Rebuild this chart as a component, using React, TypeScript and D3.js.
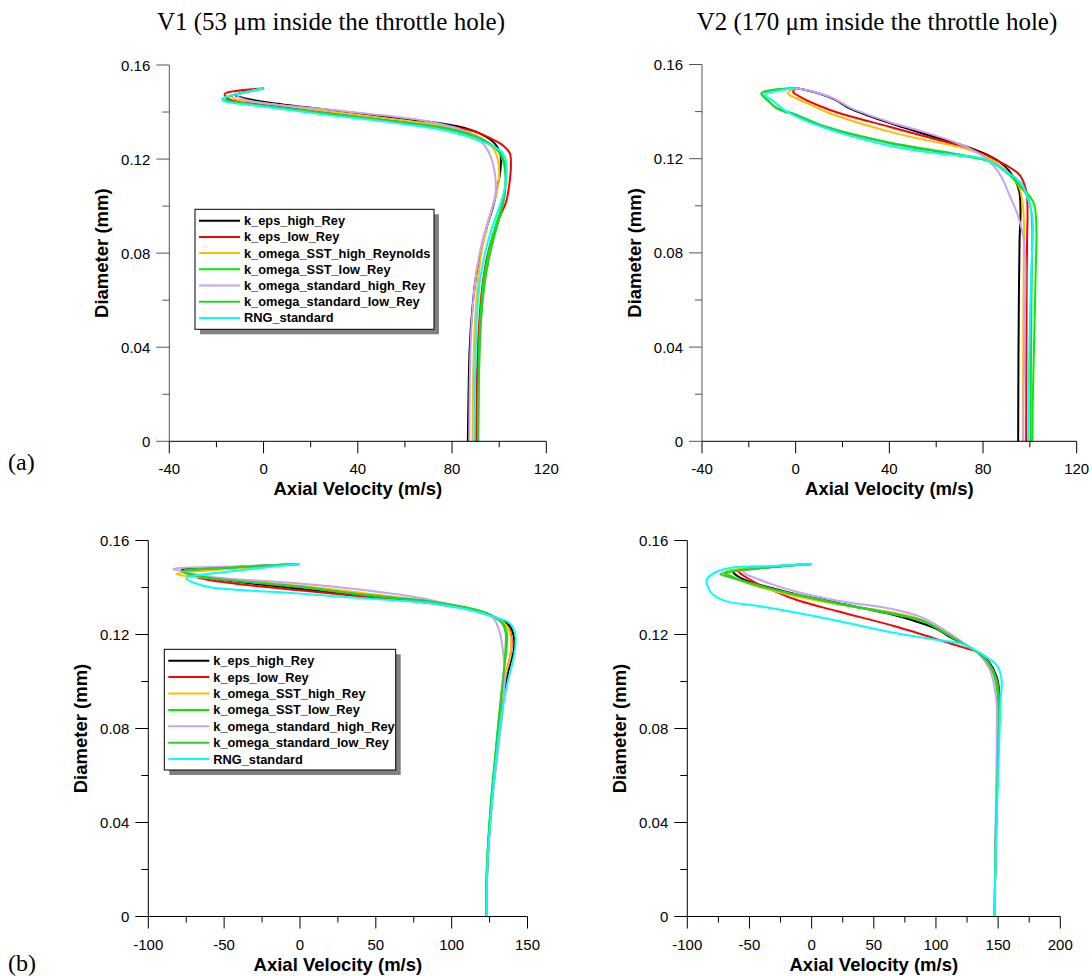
import React from "react";
import * as d3 from "d3";

type Pt = [number, number];

// ---------- labels ----------
const titleV1 = "V1 (53 \u03bcm inside the throttle hole)";
const titleV2 = "V2 (170 \u03bcm inside the throttle hole)";
const legendLabelsA = [
  "k_eps_high_Rey",
  "k_eps_low_Rey",
  "k_omega_SST_high_Reynolds",
  "k_omega_SST_low_Rey",
  "k_omega_standard_high_Rey",
  "k_omega_standard_low_Rey",
  "RNG_standard",
];
const legendLabelsB = [
  "k_eps_high_Rey",
  "k_eps_low_Rey",
  "k_omega_SST_high_Rey",
  "k_omega_SST_low_Rey",
  "k_omega_standard_high_Rey",
  "k_omega_standard_low_Rey",
  "RNG_standard",
];
const xTicksA = [-40, 0, 40, 80, 120];
const xMinorA = [-20, 20, 60, 100];
const xTicksB1 = [-100, -50, 0, 50, 100, 150];
const xMinorB1 = [-75, -25, 25, 75, 125];
const xTicksB2 = [-100, -50, 0, 50, 100, 150, 200];
const xMinorB2 = [-75, -25, 25, 75, 125, 175];
const yTicks = [0, 0.04, 0.08, 0.12, 0.16];
const yMinor = [0.02, 0.06, 0.1, 0.14];

// ---------- data: [axial velocity (m/s), diameter (mm)] ----------
// (a) V1
const a1_kEpsHigh: Pt[] = [[0,0.150],[-12,0.1472],[-9,0.1461],[-1,0.1445],[26,0.1411],[55,0.1377],[75,0.1352],[86,0.1330],[93,0.1303],[98,0.1268],[100.5,0.1222],[100.5,0.1150],[99,0.1070],[97.5,0.1000],[95,0.0920],[92.3,0.0810],[90,0.0690],[88.5,0.0550],[87.5,0.0400],[87,0.0200],[86.7,0]];
const a1_kEpsLow: Pt[] = [[0,0.150],[-16.5,0.1477],[-15.5,0.1460],[-13,0.1448],[-1,0.1432],[26,0.1401],[55,0.1367],[76,0.1343],[88,0.1322],[96,0.1290],[102,0.1255],[104.5,0.1225],[105,0.1180],[104.4,0.1100],[103,0.1020],[100.5,0.0960],[97.5,0.0880],[95,0.0790],[93,0.0670],[91.5,0.0500],[90.7,0.0300],[90.3,0]];
const a1_sstHigh: Pt[] = [[0,0.150],[-13.5,0.1466],[-12,0.1455],[0,0.1438],[26,0.1404],[55,0.1369],[75,0.1344],[86,0.1318],[93,0.1285],[97.5,0.1245],[99.5,0.1195],[100,0.1130],[99,0.1060],[97,0.0990],[94.5,0.0900],[92.3,0.0790],[90.8,0.0660],[89.7,0.0500],[89,0.0300],[88.7,0]];
const a1_sstLow: Pt[] = [[0,0.150],[-17.5,0.1456],[-16,0.1447],[-3,0.1429],[26,0.1394],[55,0.1359],[75,0.1333],[85,0.1310],[93,0.1280],[99,0.1243],[102,0.1195],[102.8,0.1130],[102.3,0.1060],[100.8,0.0990],[98.3,0.0910],[95.7,0.0810],[93.5,0.0690],[92,0.0520],[91.3,0.0300],[91,0]];
const a1_stdHigh: Pt[] = [[0,0.150],[-11,0.1470],[-10,0.1460],[-2,0.1441],[26,0.1412],[55,0.1381],[69,0.1362],[83,0.1328],[92,0.1278],[96,0.1220],[98,0.1150],[98.6,0.1080],[98,0.1030],[96,0.0960],[93.3,0.0870],[91,0.0760],[89.3,0.0630],[88.2,0.0480],[87.6,0.0300],[87.3,0]];
const a1_stdLow: Pt[] = [[0,0.150],[-16,0.1458],[-14.5,0.1448],[-2,0.1430],[26,0.1396],[55,0.1361],[75,0.1336],[86,0.1311],[94,0.1278],[99.5,0.1235],[102,0.1180],[102.7,0.1120],[102.4,0.1050],[101,0.0980],[98.7,0.0900],[96.2,0.0800],[94,0.0680],[92.4,0.0520],[91.5,0.0300],[91.2,0]];
const a1_rng: Pt[] = [[0,0.150],[-17.5,0.1455],[-16,0.1444],[-3,0.1427],[26,0.1389],[55,0.1355],[75,0.1326],[85,0.1301],[92,0.1276],[97.5,0.1255],[101.5,0.1225],[103,0.1185],[103,0.1120],[101.8,0.1050],[99.5,0.0980],[96.7,0.0900],[94,0.0800],[91.8,0.0680],[90.5,0.0520],[89.8,0.0300],[89.5,0]];

// (a) V2
const a2_kEpsHigh: Pt[] = [[0,0.150],[10,0.1477],[17,0.1450],[23,0.1414],[40,0.1352],[54,0.1308],[65,0.1275],[73,0.1251],[81,0.1220],[87,0.1187],[91,0.1150],[94,0.1103],[95.5,0.1060],[96,0.0980],[95.6,0.0850],[95.3,0.0600],[95.1,0.0300],[95,0]];
const a2_kEpsLow: Pt[] = [[0,0.150],[-1.1,0.1484],[1.7,0.1464],[10,0.1425],[18.8,0.1393],[40,0.1336],[55,0.1295],[68.6,0.1259],[80,0.1220],[87.1,0.1187],[95.6,0.1131],[98.5,0.1060],[99,0.0980],[98.8,0.0850],[98.6,0.0600],[98.5,0.0300],[98.4,0]];
const a2_sstHigh: Pt[] = [[0,0.150],[-3.3,0.1481],[-2.6,0.1471],[5,0.1435],[14.5,0.1393],[40,0.1315],[55,0.1280],[71.5,0.1245],[82,0.1205],[88.5,0.1160],[93,0.1115],[95.6,0.1075],[97,0.1000],[97.5,0.0920],[97.4,0.0800],[97.2,0.0500],[97,0]];
const a2_sstLow: Pt[] = [[0,0.150],[-14.6,0.1477],[-12,0.1450],[-8.2,0.1414],[0,0.1385],[11.7,0.1336],[40,0.1266],[68.6,0.1216],[82.8,0.1187],[91.4,0.1131],[96,0.1080],[100,0.1040],[102,0.1000],[102.8,0.0900],[102.6,0.0770],[102,0.0500],[101.3,0.0200],[101,0]];
const a2_stdHigh: Pt[] = [[0,0.150],[10,0.1478],[17,0.1452],[23,0.1418],[40,0.1356],[55,0.1313],[68,0.1270],[75,0.1240],[80,0.1210],[84.5,0.1170],[88,0.1120],[91.5,0.1040],[94.5,0.0970],[97,0.0880],[98,0.0790],[97.8,0.0500],[97.3,0.0200],[97.2,0]];
const a2_stdLow: Pt[] = [[0,0.150],[-14.6,0.1478],[-12.5,0.1452],[-8,0.1416],[0,0.1388],[12,0.1339],[40,0.1269],[68.6,0.1220],[82.8,0.1190],[91,0.1135],[96,0.1085],[99,0.1040],[100.5,0.0980],[101,0.0900],[100.8,0.0700],[100.5,0.0400],[100.3,0]];
const a2_rng: Pt[] = [[0,0.150],[-13.2,0.1471],[-10,0.1448],[-2.6,0.1393],[11.7,0.1333],[40,0.1255],[60,0.1223],[80,0.1200],[90,0.1145],[96,0.1100],[98.4,0.1054],[101,0.0960],[101.3,0.0900],[100.5,0.0700],[99.8,0.0400],[99.3,0]];

// (b) V1
const b1_kEpsHigh: Pt[] = [[0,0.1500],[-40,0.1488],[-78,0.1474],[-75,0.1462],[-60,0.1440],[-2,0.1396],[42,0.1365],[86,0.1336],[116.5,0.1302],[130,0.1270],[138.5,0.1235],[141,0.1190],[141,0.1134],[138,0.1060],[134,0.0930],[130,0.0700],[126,0.0450],[123.5,0.0200],[123,0]];
const b1_kEpsLow: Pt[] = [[0,0.1500],[-40,0.1484],[-76,0.1466],[-73,0.1455],[-60,0.1432],[-2,0.1389],[42,0.1361],[86,0.1333],[116.5,0.1300],[130,0.1268],[137.5,0.1230],[139.5,0.1180],[139,0.1120],[136.5,0.1050],[133.5,0.0930],[129.5,0.0700],[125.7,0.0450],[123.3,0.0200],[122.8,0]];
const b1_sstHigh: Pt[] = [[0,0.1500],[-40,0.1482],[-81.5,0.1458],[-78,0.1452],[-60,0.1440],[-2,0.1408],[42,0.1376],[86,0.1340],[116.5,0.1302],[129,0.1272],[136,0.1240],[139,0.1190],[138.5,0.1100],[136,0.1040],[133,0.0930],[129.5,0.0700],[125.8,0.0450],[123.3,0.0200],[122.8,0]];
const b1_sstLow: Pt[] = [[0,0.1500],[-40,0.1486],[-77,0.1467],[-72,0.1455],[-59,0.1439],[-2,0.1403],[42,0.1368],[86,0.1340],[116.5,0.1304],[128,0.1275],[134,0.1245],[136.5,0.1200],[136,0.1130],[134.5,0.1050],[132.5,0.0930],[129,0.0700],[125.5,0.0450],[123.2,0.0200],[122.8,0]];
const b1_stdHigh: Pt[] = [[0,0.1500],[-40,0.1490],[-83.5,0.1479],[-78,0.1470],[-59.3,0.1446],[-2,0.1418],[42,0.1389],[86,0.1347],[116.5,0.1297],[127.5,0.1269],[131.8,0.1205],[134,0.1120],[135,0.1050],[134,0.0900],[130.5,0.0700],[126,0.0450],[123.3,0.0200],[122.9,0]];
const b1_stdLow: Pt[] = [[0,0.1500],[-40,0.1487],[-77.5,0.1470],[-74,0.1460],[-59,0.1441],[-2,0.1405],[42,0.1370],[86,0.1341],[116.5,0.1304],[127,0.1278],[133,0.1250],[135.5,0.1210],[135.5,0.1140],[134.5,0.1050],[132.5,0.0930],[129,0.0700],[125.5,0.0450],[123.2,0.0200],[122.8,0]];
const b1_rng: Pt[] = [[0,0.1500],[-40,0.1472],[-75,0.1438],[-70,0.1420],[-59.3,0.1401],[-2,0.1375],[42,0.1354],[86,0.1333],[116.5,0.1297],[130,0.1270],[138,0.1250],[141.8,0.1205],[142,0.1150],[140.5,0.1090],[137,0.1000],[133.5,0.0880],[129.5,0.0680],[125.8,0.0430],[123.5,0.0200],[123.2,0]];

// (b) V2
const b2_kEpsHigh: Pt[] = [[0,0.1500],[-30,0.1488],[-63,0.1467],[-60,0.1450],[-50,0.1425],[-30,0.1395],[-12,0.1370],[20,0.1335],[68.4,0.1280],[100,0.1225],[111,0.1190],[122,0.1160],[132.7,0.1127],[143,0.1080],[148.8,0.1020],[151,0.0950],[151,0.0860],[149.5,0.0600],[148.5,0.0400],[147.5,0.0150],[147.3,0]];
const b2_kEpsLow: Pt[] = [[0,0.1500],[-30,0.1490],[-59,0.1471],[-56,0.1455],[-45,0.1420],[-30,0.1385],[-12,0.1347],[20,0.1300],[68.4,0.1233],[111,0.1163],[125,0.1140],[132.7,0.1127],[143,0.1075],[148.5,0.1015],[150.5,0.0950],[150.5,0.0860],[149.3,0.0600],[148.3,0.0400],[147.5,0.0150],[147.3,0]];
const b2_sstHigh: Pt[] = [[0,0.1500],[-35,0.1487],[-69.7,0.1466],[-65,0.1450],[-50,0.1415],[-30,0.1385],[-12,0.1362],[20,0.1330],[68.4,0.1290],[90,0.1260],[111,0.1195],[122,0.1160],[132.7,0.1127],[142,0.1080],[147.5,0.1020],[150,0.0950],[150.5,0.0860],[149.4,0.0600],[148.3,0.0400],[147.5,0.0150],[147.3,0]];
const b2_sstLow: Pt[] = [[0,0.1500],[-35,0.1487],[-70,0.1462],[-66,0.1450],[-50,0.1418],[-30,0.1390],[-12,0.1368],[20,0.1332],[68.4,0.1283],[90,0.1255],[111,0.1195],[122,0.1160],[132.7,0.1127],[141,0.1085],[146.5,0.1030],[149.5,0.0950],[150.2,0.0860],[149.3,0.0600],[148.3,0.0400],[147.5,0.0150],[147.3,0]];
const b2_stdHigh: Pt[] = [[0,0.1500],[-30,0.1490],[-55,0.1471],[-52,0.1455],[-45,0.1440],[-30,0.1410],[-12,0.1382],[20,0.1345],[68.4,0.1304],[90,0.1270],[111,0.1205],[122,0.1165],[132.7,0.1127],[140,0.1080],[143.4,0.1049],[147,0.0980],[148.8,0.0907],[149,0.0800],[148.6,0.0600],[148,0.0400],[147.5,0.0150],[147.3,0]];
const b2_stdLow: Pt[] = [[0,0.1500],[-35,0.1485],[-73.7,0.1457],[-70,0.1450],[-50,0.1420],[-30,0.1392],[-12,0.1370],[20,0.1334],[68.4,0.1286],[90,0.1258],[111,0.1195],[122,0.1160],[132.7,0.1127],[142,0.1080],[148,0.1020],[150.5,0.0950],[150.8,0.0860],[149.5,0.0600],[148.4,0.0400],[147.5,0.0150],[147.3,0]];
const b2_rng: Pt[] = [[0,0.1500],[-30,0.1492],[-65.7,0.1483],[-79,0.1460],[-84.5,0.1432],[-83,0.1397],[-80.4,0.1375],[-69.7,0.1343],[-38.9,0.1318],[14.7,0.1265],[68.4,0.1205],[100,0.1178],[121.9,0.1158],[132.7,0.1130],[143,0.1095],[148.8,0.1070],[152.8,0.1006],[152,0.0920],[151.4,0.0836],[150,0.0600],[148.8,0.0411],[147.6,0.0150],[147.4,0]];

// ---------- styles ----------
const COLORS = ["#000000", "#ff0000", "#ffbf00", "#00ee00", "#c8a2f5", "#2ecc2e", "#00ffff"];
const SANS = "'Liberation Sans', Arial, Helvetica, sans-serif";
const SERIF = "'Liberation Serif', 'Times New Roman', serif";

type PanelCfg = {
  left: number; right: number; bottom: number; top: number;
  xDomain: [number, number]; xMajor: number[]; xMinor: number[];
  series: Pt[][]; yAxisColor: string;
  legend?: { x: number; y: number; w: number; h: number; row0: number; step: number; labels: string[] };
};

const panels: PanelCfg[] = [
  { left: 169.3, right: 546.3, bottom: 441.3, top: 65, xDomain: [-40, 120], xMajor: xTicksA, xMinor: xMinorA,
    series: [a1_kEpsHigh, a1_kEpsLow, a1_sstHigh, a1_sstLow, a1_stdHigh, a1_stdLow, a1_rng], yAxisColor: "#555",
    legend: { x: 195, y: 209.3, w: 239, h: 120, row0: 220.7, step: 16.2, labels: legendLabelsA } },
  { left: 702, right: 1076.7, bottom: 441.3, top: 64.5, xDomain: [-40, 120], xMajor: xTicksA, xMinor: xMinorA,
    series: [a2_kEpsHigh, a2_kEpsLow, a2_sstHigh, a2_sstLow, a2_stdHigh, a2_stdLow, a2_rng], yAxisColor: "#555" },
  { left: 148.3, right: 527.5, bottom: 916.5, top: 540.5, xDomain: [-100, 150], xMajor: xTicksB1, xMinor: xMinorB1,
    series: [b1_kEpsHigh, b1_kEpsLow, b1_sstHigh, b1_sstLow, b1_stdHigh, b1_stdLow, b1_rng], yAxisColor: "#000",
    legend: { x: 164.3, y: 649.3, w: 231.4, h: 120.7, row0: 660.7, step: 16.4, labels: legendLabelsB } },
  { left: 687.3, right: 1060.3, bottom: 916.5, top: 540.5, xDomain: [-100, 200], xMajor: xTicksB2, xMinor: xMinorB2,
    series: [b2_kEpsHigh, b2_kEpsLow, b2_sstHigh, b2_sstLow, b2_stdHigh, b2_stdLow, b2_rng], yAxisColor: "#000" },
];

function Panel({ cfg }: { cfg: PanelCfg }) {
  const xs = d3.scaleLinear().domain(cfg.xDomain).range([cfg.left, cfg.right]);
  const ys = d3.scaleLinear().domain([0, 0.16]).range([cfg.bottom, cfg.top]);
  const line = d3.line<Pt>().x((p) => xs(p[0])).y((p) => ys(p[1])).curve(d3.curveCatmullRom.alpha(0.5));
  const fmtY = (v: number) => (v === 0 ? "0" : v.toFixed(2));
  const lg = cfg.legend;
  return (
    <g>
      {cfg.series.map((s, i) => (
        <path key={i} d={line(s) || ""} fill="none" stroke={COLORS[i]} strokeWidth={2} strokeLinejoin="round" />
      ))}
      <line x1={cfg.left} x2={cfg.right} y1={cfg.bottom} y2={cfg.bottom} stroke="#000" strokeWidth={1} />
      <line x1={cfg.left} x2={cfg.left} y1={cfg.bottom} y2={ys(0.16)} stroke={cfg.yAxisColor} strokeWidth={1} />
      {cfg.xMajor.map((t) => (
        <g key={"xm" + t}>
          <line x1={xs(t)} x2={xs(t)} y1={cfg.bottom} y2={cfg.bottom + 12} stroke="#000" />
          <text x={xs(t)} y={cfg.bottom + 33} textAnchor="middle" fontFamily={SANS} fontSize={15}>{String(t)}</text>
        </g>
      ))}
      {cfg.xMinor.map((t) => (
        <line key={"xn" + t} x1={xs(t)} x2={xs(t)} y1={cfg.bottom} y2={cfg.bottom + 6} stroke="#000" />
      ))}
      {yTicks.map((t) => (
        <g key={"ym" + t}>
          <line x1={cfg.left - 13} x2={cfg.left} y1={ys(t)} y2={ys(t)} stroke={cfg.yAxisColor} />
          <text x={cfg.left - 19} y={ys(t) + 5.5} textAnchor="end" fontFamily={SANS} fontSize={15}>{fmtY(t)}</text>
        </g>
      ))}
      {yMinor.map((t) => (
        <line key={"yn" + t} x1={cfg.left - 7} x2={cfg.left} y1={ys(t)} y2={ys(t)} stroke={cfg.yAxisColor} />
      ))}
      <text x={(cfg.left + cfg.right) / 2} y={cfg.bottom + 54} textAnchor="middle" fontFamily={SANS} fontWeight="bold" fontSize={18.5}>
        Axial Velocity (m/s)
      </text>
      <text transform={`translate(${cfg.left - 61},${(cfg.top + cfg.bottom) / 2}) rotate(-90)`} textAnchor="middle"
        fontFamily={SANS} fontWeight="bold" fontSize={18.5}>
        Diameter (mm)
      </text>
      {lg && (
        <g>
          <rect x={lg.x + 5} y={lg.y + 5} width={lg.w} height={lg.h} fill="#808080" />
          <rect x={lg.x} y={lg.y} width={lg.w} height={lg.h} fill="#fff" stroke="#000" strokeWidth={1} />
          {lg.labels.map((lab, i) => (
            <g key={lab + i}>
              <line x1={lg.x + 4} x2={lg.x + 45} y1={lg.row0 + i * lg.step} y2={lg.row0 + i * lg.step} stroke={COLORS[i]} strokeWidth={2} />
              <text x={lg.x + 49} y={lg.row0 + i * lg.step + 4.5} fontFamily={SANS} fontWeight="bold" fontSize={12.8}>{lab}</text>
            </g>
          ))}
        </g>
      )}
    </g>
  );
}

export default function App() {
  return (
    <svg width={1092} height={976} style={{ position: "absolute", left: 0, top: 0, background: "#fff" }}>
      <rect x={0} y={0} width={1092} height={976} fill="#fff" />
      <text x={331} y={30} textAnchor="middle" fontFamily={SERIF} fontSize={25}>{titleV1}</text>
      <text x={877} y={30} textAnchor="middle" fontFamily={SERIF} fontSize={25}>{titleV2}</text>
      {panels.map((p, i) => (
        <Panel key={i} cfg={p} />
      ))}
      <text x={8} y={470} fontFamily={SERIF} fontSize={24}>(a)</text>
      <text x={8} y={971} fontFamily={SERIF} fontSize={24}>(b)</text>
    </svg>
  );
}
